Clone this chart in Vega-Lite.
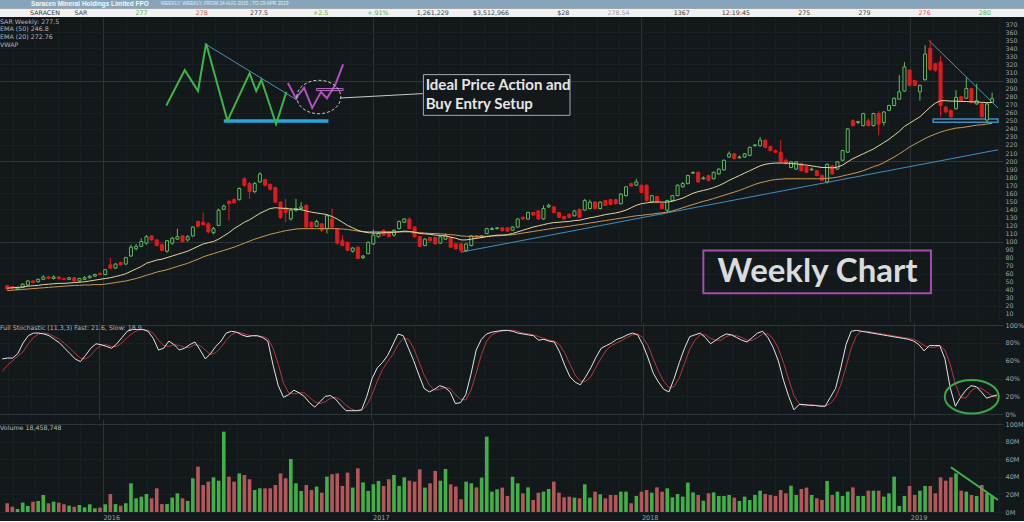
{
  "$schema": "https://vega.github.io/schema/vega-lite/v6.json",
  "background": "#13181b",
  "padding": 0,
  "spacing": 0,
  "config": {
    "view": {"stroke": null},
    "axis": {"labelFont": "DejaVu Sans", "labelFontSize": 6.5, "labelColor": "#9ba4a9", "ticks": false, "domain": false, "labelOverlap": false},
    "title": {"font": "DejaVu Sans", "fontSize": 6.3, "fontWeight": "normal", "color": "#b4bbbf", "anchor": "start", "baseline": "top", "frame": "group"}
  },
  "datasets": {
    "px": [
      {"d":"2015-08-24","o":45,"h":46,"l":40,"c":41,"v":10,"k":62,"s":48,"e20":42,"e50":39},
      {"d":"2015-08-31","o":44,"h":45,"l":40,"c":42,"v":6,"k":63,"s":55,"e20":42.5,"e50":39.5},
      {"d":"2015-09-07","o":41,"h":44,"l":40,"c":43,"v":3.4,"k":63,"s":60,"e20":43,"e50":40},
      {"d":"2015-09-14","o":43,"h":48,"l":42,"c":47,"v":10.7,"k":68,"s":65,"e20":43.5,"e50":40.5},
      {"d":"2015-09-21","o":46,"h":52,"l":45,"c":51,"v":6.9,"k":80,"s":70,"e20":44.5,"e50":41},
      {"d":"2015-09-28","o":51,"h":52,"l":48,"c":49,"v":11.8,"k":88,"s":79,"e20":45,"e50":41.5},
      {"d":"2015-10-05","o":50,"h":54,"l":49,"c":53,"v":12.6,"k":91,"s":86,"e20":45.5,"e50":42},
      {"d":"2015-10-12","o":53,"h":58,"l":52,"c":56,"v":19.4,"k":91,"s":90,"e20":46.5,"e50":42.5},
      {"d":"2015-10-19","o":56,"h":57,"l":53,"c":54,"v":9.9,"k":90,"s":91,"e20":47,"e50":43},
      {"d":"2015-10-26","o":54,"h":58,"l":53,"c":56,"v":11.8,"k":88,"s":90,"e20":47.5,"e50":43.5},
      {"d":"2015-11-02","o":56,"h":57,"l":53,"c":54,"v":10.7,"k":84,"s":87,"e20":48,"e50":44},
      {"d":"2015-11-09","o":54,"h":55,"l":52,"c":53,"v":8.8,"k":80,"s":84,"e20":48,"e50":44.5},
      {"d":"2015-11-16","o":53,"h":56,"l":52,"c":55,"v":7.2,"k":74,"s":79,"e20":48.5,"e50":45},
      {"d":"2015-11-23","o":55,"h":56,"l":50,"c":51,"v":6,"k":68,"s":74,"e20":49,"e50":45.5},
      {"d":"2015-11-30","o":51,"h":55,"l":49,"c":54,"v":8,"k":62,"s":68,"e20":49.5,"e50":45.5},
      {"d":"2015-12-07","o":53,"h":57,"l":52,"c":55,"v":5.3,"k":59,"s":63,"e20":50,"e50":46},
      {"d":"2015-12-14","o":55,"h":58,"l":54,"c":57,"v":8.8,"k":66,"s":62,"e20":51,"e50":46},
      {"d":"2015-12-21","o":57,"h":60,"l":56,"c":59,"v":4.2,"k":74,"s":66,"e20":52,"e50":46.5},
      {"d":"2015-12-28","o":60,"h":62,"l":58,"c":59,"v":5,"k":79,"s":73,"e20":53,"e50":46.5},
      {"d":"2016-01-04","o":59,"h":66,"l":58,"c":65,"v":8.8,"k":78,"s":77,"e20":54,"e50":47},
      {"d":"2016-01-11","o":71,"h":80,"l":66,"c":67,"v":20.5,"k":76,"s":78,"e20":55,"e50":48},
      {"d":"2016-01-18","o":67,"h":73,"l":66,"c":72,"v":9,"k":74,"s":76,"e20":56.5,"e50":49},
      {"d":"2016-01-25","o":74,"h":75,"l":70,"c":71,"v":7.2,"k":79,"s":76,"e20":58,"e50":50},
      {"d":"2016-02-01","o":72,"h":81,"l":71,"c":80,"v":10,"k":86,"s":80,"e20":60,"e50":51},
      {"d":"2016-02-08","o":82,"h":96,"l":81,"c":93,"v":32.7,"k":93,"s":86,"e20":63,"e50":52.5},
      {"d":"2016-02-15","o":91,"h":97,"l":89,"c":94,"v":15.6,"k":95,"s":91,"e20":66,"e50":54},
      {"d":"2016-02-22","o":94,"h":104,"l":93,"c":100,"v":17.5,"k":95,"s":94,"e20":69,"e50":56},
      {"d":"2016-02-29","o":98,"h":108,"l":96,"c":106,"v":20.5,"k":95,"s":95,"e20":73,"e50":58},
      {"d":"2016-03-07","o":107,"h":108,"l":101,"c":102,"v":15.6,"k":93,"s":94,"e20":75,"e50":60},
      {"d":"2016-03-14","o":102,"h":103,"l":94,"c":95,"v":27,"k":85,"s":91,"e20":77,"e50":62},
      {"d":"2016-03-21","o":96,"h":98,"l":88,"c":89,"v":9,"k":72,"s":83,"e20":78,"e50":63.5},
      {"d":"2016-03-28","o":88,"h":102,"l":86,"c":101,"v":9,"k":74,"s":77,"e20":80,"e50":65},
      {"d":"2016-04-04","o":98,"h":106,"l":96,"c":104,"v":16.4,"k":82,"s":76,"e20":82,"e50":67},
      {"d":"2016-04-11","o":103,"h":116,"l":102,"c":106,"v":21.3,"k":78,"s":78,"e20":84,"e50":69},
      {"d":"2016-04-18","o":107,"h":108,"l":99,"c":100,"v":15.6,"k":72,"s":77,"e20":86,"e50":71},
      {"d":"2016-04-25","o":102,"h":108,"l":100,"c":106,"v":12.6,"k":74,"s":75,"e20":88,"e50":73},
      {"d":"2016-05-02","o":107,"h":119,"l":106,"c":118,"v":38.4,"k":78,"s":75,"e20":91,"e50":75.5},
      {"d":"2016-05-09","o":125,"h":126,"l":117,"c":119,"v":51.7,"k":81,"s":78,"e20":94,"e50":78},
      {"d":"2016-05-16","o":124,"h":136,"l":120,"c":121,"v":30.8,"k":72,"s":77,"e20":97,"e50":81},
      {"d":"2016-05-23","o":122,"h":124,"l":110,"c":112,"v":34.6,"k":62,"s":72,"e20":98.5,"e50":83},
      {"d":"2016-05-30","o":111,"h":118,"l":109,"c":116,"v":39.5,"k":68,"s":67,"e20":100,"e50":85},
      {"d":"2016-06-06","o":120,"h":141,"l":119,"c":139,"v":35.7,"k":76,"s":69,"e20":103,"e50":87},
      {"d":"2016-06-13","o":140,"h":146,"l":139,"c":144,"v":91.6,"k":82,"s":75,"e20":107,"e50":89},
      {"d":"2016-06-20","o":150,"h":152,"l":126,"c":147,"v":40.3,"k":91,"s":83,"e20":111,"e50":91},
      {"d":"2016-06-27","o":152,"h":154,"l":147,"c":148,"v":34.6,"k":93,"s":89,"e20":116,"e50":93},
      {"d":"2016-07-04","o":152,"h":167,"l":151,"c":166,"v":44,"k":92,"s":92,"e20":120,"e50":95.5},
      {"d":"2016-07-11","o":178,"h":180,"l":168,"c":170,"v":42.2,"k":89,"s":91,"e20":124,"e50":98},
      {"d":"2016-07-18","o":172,"h":174,"l":153,"c":162,"v":37.3,"k":87,"s":89,"e20":127,"e50":100.5},
      {"d":"2016-07-25","o":162,"h":174,"l":160,"c":172,"v":25,"k":88,"s":88,"e20":131,"e50":103},
      {"d":"2016-08-01","o":174,"h":186,"l":173,"c":184,"v":27,"k":88,"s":88,"e20":135,"e50":105},
      {"d":"2016-08-08","o":177,"h":178,"l":168,"c":170,"v":27,"k":86,"s":87,"e20":138,"e50":107},
      {"d":"2016-08-15","o":171,"h":172,"l":163,"c":165,"v":27,"k":82,"s":85,"e20":141,"e50":109},
      {"d":"2016-08-22","o":167,"h":168,"l":148,"c":149,"v":30.8,"k":55,"s":74,"e20":142,"e50":110.5},
      {"d":"2016-08-29","o":149,"h":150,"l":128,"c":130,"v":44,"k":32,"s":56,"e20":141.5,"e50":112},
      {"d":"2016-09-05","o":142,"h":153,"l":124,"c":136,"v":38.4,"k":19,"s":35,"e20":141,"e50":113.5},
      {"d":"2016-09-12","o":128,"h":141,"l":126,"c":139,"v":60.4,"k":22,"s":24,"e20":140.5,"e50":114.5},
      {"d":"2016-09-19","o":139,"h":153,"l":137,"c":141,"v":32.7,"k":27,"s":23,"e20":140,"e50":115.5},
      {"d":"2016-09-26","o":141,"h":149,"l":139,"c":143,"v":24,"k":24,"s":24,"e20":139.5,"e50":116},
      {"d":"2016-10-03","o":145,"h":146,"l":116,"c":118,"v":30.8,"k":20,"s":24,"e20":138,"e50":116},
      {"d":"2016-10-10","o":124,"h":125,"l":116,"c":118,"v":25,"k":13,"s":19,"e20":136.5,"e50":116},
      {"d":"2016-10-17","o":119,"h":127,"l":118,"c":125,"v":29,"k":8,"s":14,"e20":135.5,"e50":116},
      {"d":"2016-10-24","o":122,"h":123,"l":112,"c":114,"v":22,"k":14,"s":12,"e20":134.5,"e50":116},
      {"d":"2016-10-31","o":116,"h":133,"l":110,"c":132,"v":40.3,"k":20,"s":14,"e20":133.5,"e50":116},
      {"d":"2016-11-07","o":128,"h":141,"l":116,"c":118,"v":43,"k":21,"s":18,"e20":131,"e50":116},
      {"d":"2016-11-14","o":116,"h":117,"l":96,"c":98,"v":44,"k":17,"s":19,"e20":128,"e50":116},
      {"d":"2016-11-21","o":101,"h":108,"l":94,"c":95,"v":29.7,"k":10,"s":16,"e20":124,"e50":115.5},
      {"d":"2016-11-28","o":99,"h":100,"l":88,"c":89,"v":44.9,"k":4,"s":10,"e20":120,"e50":115},
      {"d":"2016-12-05","o":88,"h":93,"l":86,"c":92,"v":27.8,"k":4,"s":6,"e20":117,"e50":114},
      {"d":"2016-12-12","o":93,"h":94,"l":78,"c":79,"v":49.8,"k":4,"s":4,"e20":114,"e50":113},
      {"d":"2016-12-19","o":80,"h":83,"l":78,"c":82,"v":33.8,"k":5,"s":4,"e20":112,"e50":112.5},
      {"d":"2016-12-26","o":85,"h":100,"l":84,"c":99,"v":24,"k":20,"s":10,"e20":111,"e50":112},
      {"d":"2017-01-02","o":97,"h":115,"l":96,"c":108,"v":31.6,"k":40,"s":22,"e20":110.5,"e50":112},
      {"d":"2017-01-09","o":106,"h":112,"l":105,"c":110,"v":35.4,"k":52,"s":37,"e20":110.5,"e50":112},
      {"d":"2017-01-16","o":114,"h":115,"l":107,"c":108,"v":29.7,"k":58,"s":50,"e20":111,"e50":112},
      {"d":"2017-01-23","o":112,"h":113,"l":105,"c":106,"v":37.3,"k":66,"s":59,"e20":111,"e50":112},
      {"d":"2017-01-30","o":108,"h":115,"l":106,"c":114,"v":42.2,"k":78,"s":67,"e20":111.5,"e50":112},
      {"d":"2017-02-06","o":116,"h":126,"l":115,"c":125,"v":29.7,"k":90,"s":78,"e20":112,"e50":112},
      {"d":"2017-02-13","o":124,"h":129,"l":123,"c":128,"v":39.5,"k":88,"s":85,"e20":113,"e50":112},
      {"d":"2017-02-20","o":128,"h":130,"l":115,"c":116,"v":35.7,"k":74,"s":84,"e20":112.5,"e50":112},
      {"d":"2017-02-27","o":118,"h":119,"l":104,"c":106,"v":34.6,"k":60,"s":74,"e20":111.5,"e50":111.5},
      {"d":"2017-03-06","o":106,"h":107,"l":93,"c":94,"v":48.7,"k":44,"s":59,"e20":110,"e50":111},
      {"d":"2017-03-13","o":95,"h":104,"l":94,"c":103,"v":27.8,"k":29,"s":44,"e20":109.5,"e50":110.5},
      {"d":"2017-03-20","o":105,"h":106,"l":100,"c":101,"v":32.7,"k":25,"s":33,"e20":109,"e50":110},
      {"d":"2017-03-27","o":105,"h":106,"l":96,"c":97,"v":46.8,"k":28,"s":27,"e20":108,"e50":110},
      {"d":"2017-04-03","o":98,"h":107,"l":97,"c":106,"v":35.7,"k":32,"s":28,"e20":107.5,"e50":109.5},
      {"d":"2017-04-10","o":103,"h":110,"l":102,"c":107,"v":49,"k":30,"s":30,"e20":107,"e50":109},
      {"d":"2017-04-17","o":105,"h":106,"l":92,"c":93,"v":31.6,"k":25,"s":29,"e20":105.5,"e50":108.5},
      {"d":"2017-04-24","o":97,"h":98,"l":90,"c":91,"v":29,"k":12,"s":22,"e20":104,"e50":108},
      {"d":"2017-05-01","o":97,"h":98,"l":86,"c":89,"v":14.5,"k":13,"s":17,"e20":102,"e50":107},
      {"d":"2017-05-08","o":89,"h":98,"l":87,"c":97,"v":34.6,"k":22,"s":16,"e20":102,"e50":106.5},
      {"d":"2017-05-15","o":95,"h":108,"l":94,"c":107,"v":32.7,"k":45,"s":27,"e20":103,"e50":106.5},
      {"d":"2017-05-22","o":107,"h":108,"l":103,"c":105,"v":28.1,"k":72,"s":46,"e20":104,"e50":106.5},
      {"d":"2017-05-29","o":105,"h":108,"l":104,"c":107,"v":39.2,"k":84,"s":67,"e20":105,"e50":106.5},
      {"d":"2017-06-05","o":110,"h":117,"l":109,"c":116,"v":85.9,"k":90,"s":82,"e20":106,"e50":106.5},
      {"d":"2017-06-12","o":115,"h":118,"l":114,"c":116,"v":23.2,"k":92,"s":89,"e20":107,"e50":107},
      {"d":"2017-06-19","o":116,"h":118,"l":115,"c":117,"v":25.9,"k":93,"s":92,"e20":108,"e50":107},
      {"d":"2017-06-26","o":117,"h":118,"l":112,"c":114,"v":27.8,"k":94,"s":93,"e20":108,"e50":107.5},
      {"d":"2017-07-03","o":117,"h":118,"l":112,"c":113,"v":18.3,"k":94,"s":94,"e20":108.5,"e50":108},
      {"d":"2017-07-10","o":114,"h":119,"l":113,"c":118,"v":40.3,"k":93,"s":94,"e20":110,"e50":108.5},
      {"d":"2017-07-17","o":118,"h":129,"l":117,"c":128,"v":32.7,"k":91,"s":93,"e20":112,"e50":109.5},
      {"d":"2017-07-24","o":130,"h":131,"l":127,"c":128,"v":21.3,"k":90,"s":91,"e20":114,"e50":110.5},
      {"d":"2017-07-31","o":128,"h":137,"l":127,"c":136,"v":28.1,"k":89,"s":90,"e20":116,"e50":111.5},
      {"d":"2017-08-07","o":136,"h":137,"l":132,"c":133,"v":13.7,"k":88,"s":89,"e20":118,"e50":112.5},
      {"d":"2017-08-14","o":138,"h":139,"l":127,"c":128,"v":22,"k":83,"s":87,"e20":119.5,"e50":113.5},
      {"d":"2017-08-21","o":128,"h":145,"l":127,"c":141,"v":23.2,"k":84,"s":85,"e20":121,"e50":114.5},
      {"d":"2017-08-28","o":143,"h":147,"l":142,"c":145,"v":26.2,"k":82,"s":83,"e20":122.5,"e50":115.5},
      {"d":"2017-09-04","o":143,"h":144,"l":135,"c":136,"v":34.6,"k":81,"s":82,"e20":123.5,"e50":116.5},
      {"d":"2017-09-11","o":136,"h":137,"l":129,"c":130,"v":22,"k":70,"s":78,"e20":124,"e50":117.5},
      {"d":"2017-09-18","o":131,"h":132,"l":127,"c":128,"v":16.7,"k":55,"s":69,"e20":124.5,"e50":118},
      {"d":"2017-09-25","o":134,"h":135,"l":129,"c":130,"v":17.5,"k":42,"s":56,"e20":125,"e50":119},
      {"d":"2017-10-02","o":132,"h":139,"l":131,"c":138,"v":16.4,"k":36,"s":44,"e20":126,"e50":120},
      {"d":"2017-10-09","o":140,"h":141,"l":129,"c":130,"v":15.6,"k":33,"s":37,"e20":126.5,"e50":121},
      {"d":"2017-10-16","o":139,"h":153,"l":138,"c":151,"v":31.6,"k":42,"s":37,"e20":128,"e50":122},
      {"d":"2017-10-23","o":141,"h":152,"l":140,"c":149,"v":16.4,"k":52,"s":42,"e20":129.5,"e50":123},
      {"d":"2017-10-30","o":149,"h":150,"l":140,"c":141,"v":23.2,"k":64,"s":53,"e20":130.5,"e50":124},
      {"d":"2017-11-06","o":141,"h":150,"l":140,"c":149,"v":20.2,"k":74,"s":63,"e20":132,"e50":125},
      {"d":"2017-11-13","o":151,"h":152,"l":144,"c":145,"v":15.6,"k":77,"s":72,"e20":133.5,"e50":126},
      {"d":"2017-11-20","o":152,"h":153,"l":145,"c":146,"v":19.4,"k":80,"s":77,"e20":134.5,"e50":127},
      {"d":"2017-11-27","o":152,"h":153,"l":146,"c":147,"v":19.4,"k":84,"s":80,"e20":135.5,"e50":128},
      {"d":"2017-12-04","o":147,"h":160,"l":146,"c":159,"v":23.2,"k":86,"s":83,"e20":137,"e50":129},
      {"d":"2017-12-11","o":157,"h":169,"l":156,"c":168,"v":23.2,"k":89,"s":86,"e20":139,"e50":130},
      {"d":"2017-12-18","o":172,"h":173,"l":168,"c":169,"v":10,"k":91,"s":89,"e20":142,"e50":131},
      {"d":"2017-12-25","o":170,"h":178,"l":169,"c":174,"v":18.3,"k":89,"s":90,"e20":145,"e50":132},
      {"d":"2018-01-01","o":170,"h":171,"l":160,"c":161,"v":23.2,"k":78,"s":86,"e20":147,"e50":132.5},
      {"d":"2018-01-08","o":170,"h":171,"l":150,"c":151,"v":25,"k":63,"s":77,"e20":148,"e50":133.5},
      {"d":"2018-01-15","o":149,"h":158,"l":148,"c":157,"v":22,"k":46,"s":62,"e20":149,"e50":134},
      {"d":"2018-01-22","o":156,"h":157,"l":148,"c":149,"v":28.1,"k":36,"s":48,"e20":149,"e50":135},
      {"d":"2018-01-29","o":147,"h":148,"l":140,"c":141,"v":23.2,"k":28,"s":37,"e20":149,"e50":135.5},
      {"d":"2018-02-05","o":139,"h":152,"l":136,"c":151,"v":27,"k":25,"s":30,"e20":149,"e50":136.5},
      {"d":"2018-02-12","o":151,"h":158,"l":150,"c":157,"v":16.7,"k":40,"s":31,"e20":150,"e50":138},
      {"d":"2018-02-19","o":157,"h":171,"l":156,"c":170,"v":20.5,"k":58,"s":41,"e20":152,"e50":140},
      {"d":"2018-02-26","o":168,"h":174,"l":167,"c":172,"v":17.5,"k":74,"s":57,"e20":154,"e50":142},
      {"d":"2018-03-05","o":172,"h":183,"l":171,"c":182,"v":33.5,"k":87,"s":73,"e20":157,"e50":144},
      {"d":"2018-03-12","o":185,"h":187,"l":184,"c":186,"v":22.4,"k":89,"s":83,"e20":160,"e50":146},
      {"d":"2018-03-19","o":186,"h":187,"l":173,"c":174,"v":19.4,"k":91,"s":89,"e20":162,"e50":148},
      {"d":"2018-03-26","o":178,"h":181,"l":177,"c":179,"v":12.9,"k":86,"s":89,"e20":163.5,"e50":150},
      {"d":"2018-04-02","o":182,"h":183,"l":175,"c":176,"v":21.3,"k":79,"s":85,"e20":165,"e50":151.5},
      {"d":"2018-04-09","o":178,"h":187,"l":177,"c":186,"v":22.4,"k":83,"s":83,"e20":167,"e50":153.5},
      {"d":"2018-04-16","o":184,"h":191,"l":183,"c":190,"v":18.3,"k":87,"s":83,"e20":169.5,"e50":155.5},
      {"d":"2018-04-23","o":189,"h":202,"l":188,"c":201,"v":18.3,"k":90,"s":87,"e20":172.5,"e50":157.5},
      {"d":"2018-04-30","o":205,"h":212,"l":204,"c":209,"v":19.4,"k":89,"s":89,"e20":176,"e50":159.5},
      {"d":"2018-05-07","o":209,"h":210,"l":202,"c":203,"v":16.4,"k":86,"s":88,"e20":179,"e50":161.5},
      {"d":"2018-05-14","o":204,"h":207,"l":203,"c":205,"v":12.6,"k":83,"s":86,"e20":182,"e50":163.5},
      {"d":"2018-05-21","o":205,"h":210,"l":204,"c":209,"v":17.5,"k":81,"s":83,"e20":185,"e50":166},
      {"d":"2018-05-28","o":207,"h":218,"l":206,"c":217,"v":13.7,"k":86,"s":83,"e20":188,"e50":168.5},
      {"d":"2018-06-04","o":219,"h":221,"l":218,"c":220,"v":19.4,"k":91,"s":86,"e20":191,"e50":171},
      {"d":"2018-06-11","o":219,"h":230,"l":218,"c":226,"v":24.3,"k":93,"s":90,"e20":194,"e50":173},
      {"d":"2018-06-18","o":226,"h":228,"l":216,"c":217,"v":20.5,"k":86,"s":90,"e20":196,"e50":174.5},
      {"d":"2018-06-25","o":218,"h":219,"l":212,"c":213,"v":19.4,"k":75,"s":85,"e20":197,"e50":176},
      {"d":"2018-07-02","o":213,"h":214,"l":210,"c":211,"v":18.3,"k":60,"s":74,"e20":197.5,"e50":177},
      {"d":"2018-07-09","o":211,"h":226,"l":198,"c":199,"v":25,"k":38,"s":58,"e20":197.5,"e50":177.5},
      {"d":"2018-07-16","o":201,"h":203,"l":195,"c":197,"v":21.3,"k":20,"s":39,"e20":197.5,"e50":178},
      {"d":"2018-07-23","o":192,"h":200,"l":191,"c":199,"v":30,"k":5,"s":21,"e20":197,"e50":178},
      {"d":"2018-07-30","o":190,"h":200,"l":189,"c":199,"v":19.4,"k":11,"s":12,"e20":196.5,"e50":178},
      {"d":"2018-08-06","o":197,"h":198,"l":187,"c":188,"v":26.2,"k":11,"s":9,"e20":195.5,"e50":178},
      {"d":"2018-08-13","o":193,"h":194,"l":185,"c":186,"v":27.8,"k":10,"s":11,"e20":195,"e50":178},
      {"d":"2018-08-20","o":189,"h":192,"l":188,"c":190,"v":19.4,"k":10,"s":10,"e20":194,"e50":178},
      {"d":"2018-08-27","o":188,"h":189,"l":181,"c":182,"v":15.6,"k":9,"s":10,"e20":193,"e50":178},
      {"d":"2018-09-03","o":182,"h":183,"l":175,"c":176,"v":13.7,"k":9,"s":9,"e20":192,"e50":178},
      {"d":"2018-09-10","o":174,"h":197,"l":172,"c":196,"v":35.4,"k":19,"s":12,"e20":192,"e50":178.5},
      {"d":"2018-09-17","o":194,"h":195,"l":183,"c":184,"v":19.4,"k":29,"s":19,"e20":191.5,"e50":179},
      {"d":"2018-09-24","o":190,"h":200,"l":189,"c":199,"v":23.2,"k":52,"s":33,"e20":192.5,"e50":180},
      {"d":"2018-10-01","o":201,"h":214,"l":200,"c":213,"v":18.3,"k":78,"s":53,"e20":195,"e50":181.5},
      {"d":"2018-10-08","o":211,"h":241,"l":210,"c":240,"v":23.2,"k":93,"s":74,"e20":199,"e50":183},
      {"d":"2018-10-15","o":250,"h":252,"l":243,"c":244,"v":28.1,"k":94,"s":88,"e20":203,"e50":184.5},
      {"d":"2018-10-22","o":248,"h":250,"l":246,"c":249,"v":18.3,"k":93,"s":93,"e20":206,"e50":186},
      {"d":"2018-10-29","o":244,"h":260,"l":243,"c":259,"v":18.3,"k":92,"s":93,"e20":209,"e50":188},
      {"d":"2018-11-05","o":250,"h":253,"l":243,"c":244,"v":24.3,"k":91,"s":92,"e20":212,"e50":190.5},
      {"d":"2018-11-12","o":244,"h":260,"l":243,"c":259,"v":24.3,"k":90,"s":91,"e20":215,"e50":193},
      {"d":"2018-11-19","o":259,"h":262,"l":232,"c":246,"v":24.3,"k":89,"s":90,"e20":219,"e50":195},
      {"d":"2018-11-26","o":248,"h":262,"l":244,"c":261,"v":17.5,"k":88,"s":89,"e20":223,"e50":198},
      {"d":"2018-12-03","o":263,"h":270,"l":262,"c":269,"v":21.3,"k":87,"s":88,"e20":227,"e50":201.5},
      {"d":"2018-12-10","o":269,"h":279,"l":268,"c":278,"v":40.3,"k":86,"s":87,"e20":232,"e50":205},
      {"d":"2018-12-17","o":277,"h":307,"l":276,"c":286,"v":6.9,"k":85,"s":86,"e20":237,"e50":209},
      {"d":"2018-12-24","o":287,"h":323,"l":286,"c":317,"v":18.3,"k":84,"s":85,"e20":243,"e50":213},
      {"d":"2018-12-31","o":313,"h":314,"l":293,"c":294,"v":29.7,"k":82,"s":84,"e20":247,"e50":217.5},
      {"d":"2019-01-07","o":300,"h":301,"l":293,"c":294,"v":19.4,"k":78,"s":81,"e20":251,"e50":221},
      {"d":"2019-01-14","o":286,"h":295,"l":275,"c":294,"v":24.3,"k":71,"s":77,"e20":255,"e50":224.5},
      {"d":"2019-01-21","o":301,"h":344,"l":300,"c":333,"v":29.7,"k":77,"s":75,"e20":261,"e50":228},
      {"d":"2019-01-28","o":340,"h":350,"l":312,"c":314,"v":29.7,"k":77,"s":75,"e20":267,"e50":231},
      {"d":"2019-02-04","o":321,"h":322,"l":311,"c":313,"v":21.3,"k":77,"s":77,"e20":272,"e50":233.5},
      {"d":"2019-02-11","o":323,"h":331,"l":255,"c":269,"v":39.5,"k":62,"s":72,"e20":275,"e50":236},
      {"d":"2019-02-18","o":267,"h":268,"l":260,"c":261,"v":35.7,"k":30,"s":56,"e20":275,"e50":238},
      {"d":"2019-02-25","o":263,"h":264,"l":254,"c":255,"v":39.5,"k":9,"s":34,"e20":274.5,"e50":239.5},
      {"d":"2019-03-04","o":265,"h":288,"l":264,"c":279,"v":44,"k":19,"s":19,"e20":274.5,"e50":241},
      {"d":"2019-03-11","o":280,"h":281,"l":274,"c":275,"v":24.3,"k":27,"s":18,"e20":274,"e50":241.5},
      {"d":"2019-03-18","o":278,"h":304,"l":277,"c":290,"v":23.2,"k":32,"s":26,"e20":274,"e50":242.5},
      {"d":"2019-03-25","o":290,"h":291,"l":272,"c":273,"v":19.4,"k":31,"s":30,"e20":273.5,"e50":243.5},
      {"d":"2019-04-01","o":271,"h":296,"l":270,"c":275,"v":18.3,"k":25,"s":29,"e20":273.5,"e50":244.5},
      {"d":"2019-04-08","o":271,"h":272,"l":254,"c":255,"v":30.8,"k":18,"s":25,"e20":273,"e50":245},
      {"d":"2019-04-15","o":251,"h":272,"l":248,"c":271,"v":21.3,"k":20,"s":21,"e20":272.5,"e50":246},
      {"d":"2019-04-22","o":273,"h":285,"l":272,"c":277.5,"v":18.5,"k":21.6,"s":18.9,"e20":272.76,"e50":246.8}
    ],
    "skg": [
      {"d":"2016-03-27","v":269},{"d":"2016-04-21","v":313},{"d":"2016-05-09","v":287},{"d":"2016-05-20","v":346},
      {"d":"2016-06-18","v":250},{"d":"2016-07-18","v":309},{"d":"2016-07-27","v":287},{"d":"2016-08-03","v":301},
      {"d":"2016-08-23","v":246},{"d":"2016-09-06","v":286}
    ],
    "skm": [
      {"d":"2016-09-08","v":297},{"d":"2016-09-19","v":278},{"d":"2016-09-30","v":291},{"d":"2016-10-11","v":266},
      {"d":"2016-10-23","v":286},{"d":"2016-10-31","v":278},{"d":"2016-11-11","v":294},{"d":"2016-11-22","v":320}
    ],
    "skd": [{"d":"2016-05-18","v":346},{"d":"2016-09-21","v":275.5}],
    "skb": [{"d":"2016-06-13","v":249.7},{"d":"2016-11-02","v":249.7}],
    "skr": [{"d":"2016-10-17","d2":"2016-11-22","v":287.5,"v2":290}],
    "ske": [{"d":"2016-10-20","v":279.6}],
    "skc": [{"d":"2016-11-18","v":278.3},{"d":"2017-03-10","v":283.8}],
    "box1": [{"d":"2017-03-11","d2":"2017-09-26","v":307.4,"v2":256.8}],
    "txt1": [{"d":"2017-03-14","v":294,"t":"Ideal Price Action and"},{"d":"2017-03-14","v":270.5,"t":"Buy Entry Setup"}],
    "box2": [{"d":"2018-03-26","d2":"2019-01-29","v":88.9,"v2":35.8}],
    "txt2": [{"d":"2018-08-28","v":62.5,"t":"Weekly Chart"}],
    "tldn": [{"d":"2019-01-26","v":350},{"d":"2019-04-30","v":266}],
    "tlsup": [{"d":"2019-02-01","d2":"2019-04-30","v":248.1,"v2":252.3}],
    "tlup": [{"d":"2017-05-01","v":86.8},{"d":"2019-04-30","v":214}],
    "stell": [{"d":"2019-03-19","p":19.7}],
    "vline": [{"d":"2019-02-25","m":51},{"d":"2019-04-30","m":13.7}],
    "hdr": [
      {"col":"c1","t":"SAR","dir":"n"},
      {"col":"c2","t":"277","dir":"up"},
      {"col":"c3","t":"278","dir":"dn"},
      {"col":"c4","t":"277.5","dir":"n"},
      {"col":"c5","t":"+2.5","dir":"up"},
      {"col":"c6","t":"+.91%","dir":"up"},
      {"col":"c7","t":"1,261,229","dir":"n"},
      {"col":"c8","t":"$3,512,966","dir":"n"},
      {"col":"c9","t":"$28","dir":"n"},
      {"col":"c10","t":"278.54","dir":"g"},
      {"col":"c11","t":"1367","dir":"n"},
      {"col":"c12","t":"12:19:45","dir":"n"},
      {"col":"c13","t":"275","dir":"n"},
      {"col":"c14","t":"279","dir":"n"},
      {"col":"c15","t":"276","dir":"dn"},
      {"col":"c16","t":"280","dir":"up"}
    ]
  },
  "vconcat": [
    {
      "width": 1024,
      "height": 17,
      "layer": [
        {
          "data": {"values": [{"r":"a"},{"r":"b"}]},
          "mark": {"type": "rect"},
          "encoding": {
            "y": {"field": "r", "type": "nominal", "scale": {"domain": ["a","b"], "paddingInner": 0, "paddingOuter": 0}, "axis": null},
            "color": {"condition": {"test": "datum.r === 'a'", "value": "#87a5ba"}, "value": "#f1f1f1"}
          }
        },
        {
          "data": {"values": [{"col":"c0","t":"Saracen Mineral Holdings Limited FPO"}]},
          "mark": {"type": "text", "align": "left", "dx": 1, "font": "Liberation Sans", "fontWeight": "bold", "fontSize": 6.4, "color": "#f5f8fa"},
          "encoding": {
            "x": {"field": "col", "type": "nominal", "bandPosition": 0, "scale": {"domain": ["c0","c1","c2","c3","c4","c5","c6","c7","c8","c9","c10","c11","c12","c13","c14","c15","c16"], "paddingInner": 0, "paddingOuter": 0}, "axis": null},
            "y": {"datum": "a", "type": "nominal"},
            "text": {"field": "t"}
          }
        },
        {
          "data": {"values": [{"col":"c2","t":"WEEKLY, WEEKLY, FROM 24 AUG 2015 , TO 29 APR 2019"}]},
          "mark": {"type": "text", "align": "left", "dx": 10, "font": "Liberation Sans", "fontSize": 4.8, "color": "#e3ebf1"},
          "encoding": {
            "x": {"field": "col", "type": "nominal", "bandPosition": 0},
            "y": {"datum": "a", "type": "nominal"},
            "text": {"field": "t"}
          }
        },
        {
          "data": {"values": [{"col":"c0","t":"SARACEN"}]},
          "mark": {"type": "text", "align": "left", "dx": 0, "font": "DejaVu Sans", "fontSize": 6.3, "color": "#333333"},
          "encoding": {
            "x": {"field": "col", "type": "nominal", "bandPosition": 0},
            "y": {"datum": "b", "type": "nominal"},
            "text": {"field": "t"}
          }
        },
        {
          "data": {"name": "hdr"},
          "mark": {"type": "text", "align": "right", "dx": -3, "font": "DejaVu Sans", "fontSize": 6.3},
          "encoding": {
            "x": {"field": "col", "type": "nominal", "bandPosition": 1},
            "y": {"datum": "b", "type": "nominal"},
            "text": {"field": "t"},
            "color": {"field": "dir", "type": "nominal", "scale": {"domain": ["up","dn","n","g"], "range": ["#4cae4c","#d9534f","#3a3a3a","#9a9a9a"]}, "legend": null}
          }
        }
      ]
    },
    {
      "width": 1003,
      "height": 305,
      "title": {"text": ["SAR Weekly: 277.5", "EMA (50) 246.8", "EMA (20) 272.76", "VWAP"], "lineHeight": 7.7, "offset": -31},
      "encoding": {
        "x": {
          "field": "d", "type": "temporal", "title": null,
          "scale": {"domain": [{"year": 2015, "month": 8, "date": 21, "utc": true}, {"year": 2019, "month": 4, "date": 30, "utc": true}], "nice": false},
          "axis": {"grid": true, "labels": false, "tickCount": {"interval": "month", "step": 1},
                   "gridColor": {"condition": {"test": "month(datum.value) === 0", "value": "#2b3337"}, "value": "#192024"}}
        }
      },
      "layer": [
        {
          "data": {"name": "tlup"},
          "mark": {"type": "line", "color": "#3f8fc0", "strokeWidth": 1, "clip": true},
          "encoding": {
            "y": {"field": "v", "type": "quantitative", "title": null,
                  "scale": {"domain": [0, 379], "nice": false, "zero": false},
                  "axis": {"orient": "right", "labelPadding": 2, "labelOverlap": false, "labelBound": false, "labelFontSize": 6.3, "tickCount": 100,
                           "values": [10,20,30,40,50,60,70,80,90,100,110,120,130,140,150,160,170,180,190,200,210,220,230,240,250,260,270,280,290,300,310,320,330,340,350,360,370],
                           "grid": true,
                           "gridColor": {"condition": {"test": "datum.value % 100 === 0", "value": "#2d363b"}, "value": "#192024"},
                           "gridOpacity": {"condition": {"test": "datum.value % 20 === 0", "value": 1}, "value": 0}}}
          }
        },
        {
          "data": {"name": "tldn"},
          "mark": {"type": "line", "color": "#4a90bf", "strokeWidth": 1, "clip": true},
          "encoding": {"y": {"field": "v", "type": "quantitative", "title": null}}
        },
        {
          "data": {"name": "tlsup"},
          "mark": {"type": "rect", "fill": null, "stroke": "#3f8fc0", "strokeWidth": 1.5, "clip": true},
          "encoding": {
            "x2": {"field": "d2"},
            "y": {"field": "v", "type": "quantitative", "title": null},
            "y2": {"field": "v2"}
          }
        },
        {
          "data": {"name": "px"},
          "mark": {"type": "rule", "strokeWidth": 1},
          "encoding": {
            "y": {"field": "l", "type": "quantitative", "title": null},
            "y2": {"field": "h"},
            "color": {"condition": {"test": "datum.c >= datum.o", "value": "#5dbb5f"}, "value": "#e01b1f"}
          }
        },
        {
          "data": {"name": "px"},
          "mark": {"type": "bar", "size": 3, "strokeWidth": 1, "opacity": 1},
          "encoding": {
            "y": {"field": "o", "type": "quantitative", "title": null},
            "y2": {"field": "c"},
            "fill": {"condition": {"test": "datum.c >= datum.o", "value": "#13181b"}, "value": "#e01b1f"},
            "stroke": {"condition": {"test": "datum.c >= datum.o", "value": "#5dbb5f"}, "value": "#e01b1f"}
          }
        },
        {
          "data": {"name": "px"},
          "mark": {"type": "line", "color": "#c99a55", "strokeWidth": 1},
          "encoding": {"y": {"field": "e50", "type": "quantitative", "title": null}}
        },
        {
          "data": {"name": "px"},
          "mark": {"type": "line", "color": "#e6d59f", "strokeWidth": 1},
          "encoding": {"y": {"field": "e20", "type": "quantitative", "title": null}}
        },
        {
          "data": {"name": "skb"},
          "mark": {"type": "line", "color": "#25a6e0", "strokeWidth": 3.5},
          "encoding": {"y": {"field": "v", "type": "quantitative", "title": null}}
        },
        {
          "data": {"name": "skd"},
          "mark": {"type": "line", "color": "#4d8fb5", "strokeWidth": 1},
          "encoding": {"y": {"field": "v", "type": "quantitative", "title": null}}
        },
        {
          "data": {"name": "skg"},
          "mark": {"type": "line", "color": "#3cb54a", "strokeWidth": 2},
          "encoding": {"y": {"field": "v", "type": "quantitative", "title": null}}
        },
        {
          "data": {"name": "skm"},
          "mark": {"type": "line", "color": "#b050c0", "strokeWidth": 2},
          "encoding": {"y": {"field": "v", "type": "quantitative", "title": null}}
        },
        {
          "data": {"name": "skr"},
          "mark": {"type": "rect", "fill": null, "stroke": "#c070c8", "strokeWidth": 1},
          "encoding": {
            "x2": {"field": "d2"},
            "y": {"field": "v", "type": "quantitative", "title": null},
            "y2": {"field": "v2"}
          }
        },
        {
          "data": {"name": "ske"},
          "mark": {"type": "point", "shape": "M -1 0 A 1 0.76 0 1 1 1 0 A 1 0.76 0 1 1 -1 0 Z", "size": 1936, "filled": false, "color": "#c9c9c9", "strokeWidth": 1, "strokeDash": [3, 2], "opacity": 1},
          "encoding": {"y": {"field": "v", "type": "quantitative", "title": null}}
        },
        {
          "data": {"name": "skc"},
          "mark": {"type": "line", "color": "#c8c8c8", "strokeWidth": 1},
          "encoding": {"y": {"field": "v", "type": "quantitative", "title": null}}
        },
        {
          "data": {"name": "box1"},
          "mark": {"type": "rect", "fill": "#13181b", "stroke": "#a3abaf", "strokeWidth": 1},
          "encoding": {
            "x2": {"field": "d2"},
            "y": {"field": "v", "type": "quantitative", "title": null},
            "y2": {"field": "v2"}
          }
        },
        {
          "data": {"name": "txt1"},
          "mark": {"type": "text", "align": "left", "baseline": "middle", "font": "Lato", "fontWeight": "bold", "fontSize": 15, "color": "#e6e6e6"},
          "encoding": {
            "y": {"field": "v", "type": "quantitative", "title": null},
            "text": {"field": "t"}
          }
        },
        {
          "data": {"name": "box2"},
          "mark": {"type": "rect", "fill": null, "stroke": "#a24fae", "strokeWidth": 2},
          "encoding": {
            "x2": {"field": "d2"},
            "y": {"field": "v", "type": "quantitative", "title": null},
            "y2": {"field": "v2"}
          }
        },
        {
          "data": {"name": "txt2"},
          "mark": {"type": "text", "align": "center", "baseline": "middle", "font": "Lato", "fontWeight": "bold", "fontSize": 33, "color": "#d9dbdc"},
          "encoding": {
            "y": {"field": "v", "type": "quantitative", "title": null},
            "text": {"field": "t"}
          }
        }
      ]
    },
    {
      "width": 1003,
      "height": 97,
      "title": {"text": "Full Stochastic (11,3,3) Fast: 21.6, Slow: 18.9", "offset": -9},
      "encoding": {
        "x": {
          "field": "d", "type": "temporal", "title": null,
          "scale": {"domain": [{"year": 2015, "month": 8, "date": 21, "utc": true}, {"year": 2019, "month": 4, "date": 30, "utc": true}], "nice": false},
          "axis": {"grid": true, "labels": false, "tickCount": {"interval": "month", "step": 1},
                   "gridColor": {"condition": {"test": "month(datum.value) === 0", "value": "#2b3337"}, "value": "#192024"}}
        }
      },
      "layer": [
        {
          "data": {"name": "px"},
          "mark": {"type": "line", "color": "#b3393b", "strokeWidth": 1},
          "encoding": {
            "y": {"field": "s", "type": "quantitative", "title": null,
                  "scale": {"domain": [-5.3, 103.4], "nice": false, "zero": false},
                  "axis": {"orient": "right", "labelPadding": 2, "labelOverlap": false, "labelBound": false, "tickCount": 100, "values": [0,20,40,60,80,100], "labelExpr": "datum.value + '%'",
                           "grid": true,
                           "gridColor": {"condition": {"test": "datum.value === 0 || datum.value === 100", "value": "#2d363b"}, "value": "#192024"}}}
          }
        },
        {
          "data": {"name": "px"},
          "mark": {"type": "line", "color": "#e2e6e8", "strokeWidth": 1},
          "encoding": {"y": {"field": "k", "type": "quantitative", "title": null}}
        },
        {
          "data": {"name": "stell"},
          "mark": {"type": "point", "shape": "M -1 0 A 1 0.62 0 1 1 1 0 A 1 0.62 0 1 1 -1 0 Z", "size": 2916, "filled": false, "color": "#3aa84a", "strokeWidth": 2, "opacity": 1},
          "encoding": {"y": {"field": "p", "type": "quantitative", "title": null}}
        }
      ]
    },
    {
      "width": 1003,
      "height": 93,
      "title": {"text": "Volume 18,458,748", "offset": -12},
      "encoding": {
        "x": {
          "field": "d", "type": "temporal", "title": null,
          "scale": {"domain": [{"year": 2015, "month": 8, "date": 21, "utc": true}, {"year": 2019, "month": 4, "date": 30, "utc": true}], "nice": false},
          "axis": {"grid": true, "labels": true, "labelAlign": "left", "labelPadding": 2, "labelOverlap": false,
                   "tickCount": {"interval": "month", "step": 1},
                   "labelExpr": "month(datum.value) === 0 ? timeFormat(datum.value, '%Y') : ''",
                   "gridColor": {"condition": {"test": "month(datum.value) === 0", "value": "#2b3337"}, "value": "#192024"}}
        }
      },
      "layer": [
        {
          "data": {"name": "px"},
          "mark": {"type": "bar", "size": 3.6, "opacity": 1},
          "encoding": {
            "y": {"field": "v", "type": "quantitative", "title": null,
                  "scale": {"domain": [0, 106], "nice": false},
                  "axis": {"orient": "right", "labelPadding": 2, "labelOverlap": false, "labelBound": false, "tickCount": 100, "values": [0,20,40,60,80,100], "labelExpr": "datum.value + 'M'",
                           "grid": true,
                           "gridColor": {"condition": {"test": "datum.value === 100", "value": "#2d363b"}, "value": "#192024"}}},
            "color": {"condition": {"test": "datum.c >= datum.o", "value": "#41b04a"}, "value": "#b5565b"}
          }
        },
        {
          "data": {"name": "vline"},
          "mark": {"type": "line", "color": "#3fb54c", "strokeWidth": 2, "clip": true},
          "encoding": {"y": {"field": "m", "type": "quantitative", "title": null}}
        }
      ]
    }
  ]
}
